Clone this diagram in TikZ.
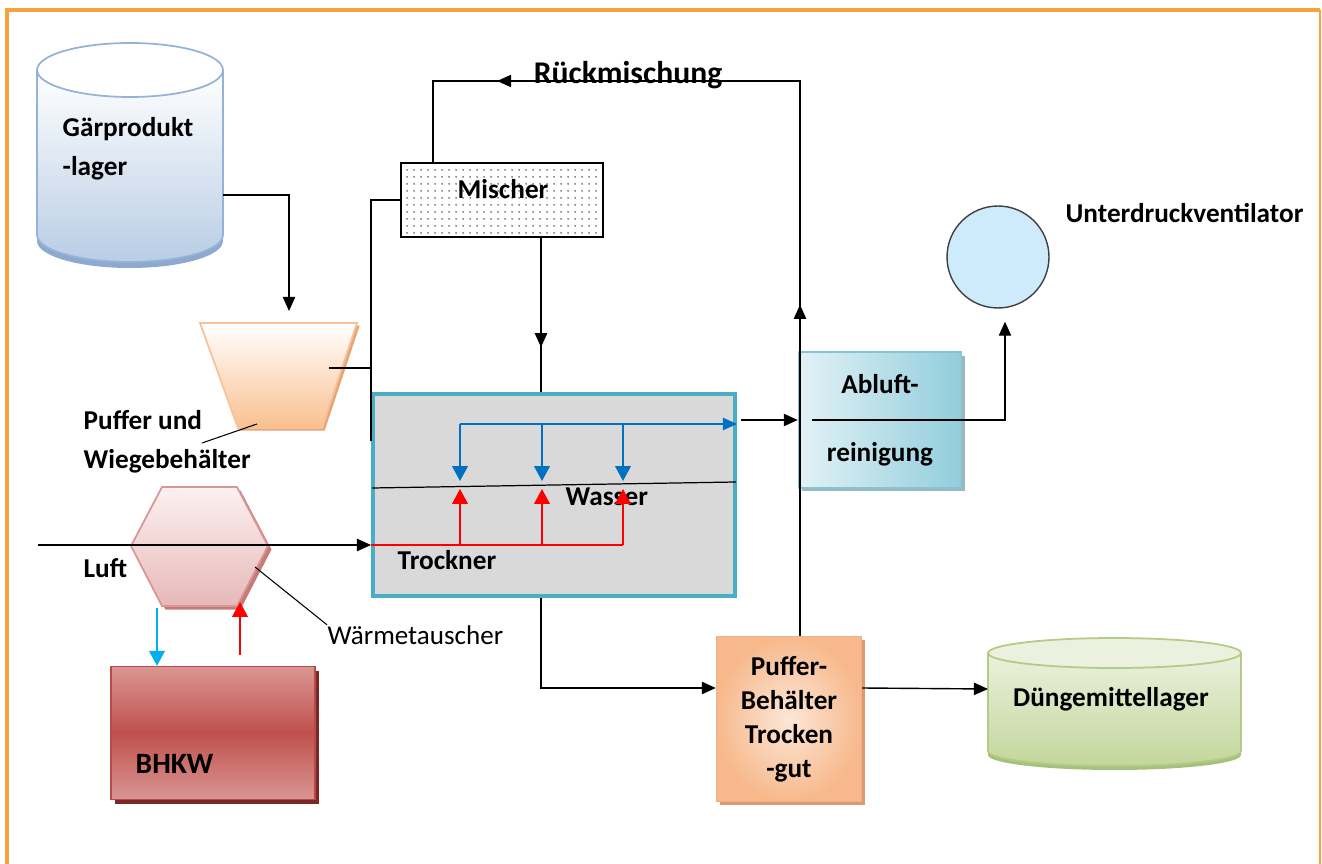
\documentclass[tikz,border=0pt]{standalone}
\usepackage{fontspec}
\setmainfont{Carlito}
\usetikzlibrary{arrows.meta, positioning, calc, patterns.meta, shadows,
                decorations.markings}

\definecolor{rahmen}{HTML}{F8A13A}
\definecolor{gaerrand}{HTML}{95B3D7}
\definecolor{gaerblau}{HTML}{B9CDE5}
\definecolor{gaerschatten}{HTML}{8EA9CF}
\definecolor{waagerand}{HTML}{F5C29A}
\definecolor{waageorange}{HTML}{FAC090}
\definecolor{waageschatten}{HTML}{E8A474}
\definecolor{hexrand}{HTML}{D99694}
\definecolor{hexhell}{HTML}{FCF1F1}
\definecolor{hexrosa}{HTML}{E6B9B8}
\definecolor{hexschatten}{HTML}{C77B79}
\definecolor{bhkwrot}{HTML}{C0504D}
\definecolor{bhkwhell}{HTML}{D99694}
\definecolor{bhkwrand}{HTML}{B84A47}
\definecolor{bhkwschatten}{HTML}{7B2725}
\definecolor{trocknerrand}{HTML}{4BACC6}
\definecolor{trocknergrau}{HTML}{D9D9D9}
\definecolor{wasserblau}{HTML}{0070C0}
\definecolor{heissrot}{HTML}{FF0000}
\definecolor{kaltcyan}{HTML}{00B0F0}
\definecolor{pfirsich}{HTML}{F7B98C}
\definecolor{pufferhell}{HTML}{FDE7D8}
\definecolor{pufferrand}{HTML}{F4B084}
\definecolor{pufferschatten}{HTML}{D89B72}
\definecolor{duenggruen}{HTML}{C3D69B}
\definecolor{duenghell}{HTML}{EBF1DE}
\definecolor{duengrand}{HTML}{B3CB85}
\definecolor{duengschatten}{HTML}{A6C27A}
\definecolor{ventblau}{HTML}{CDEBFB}
\definecolor{abluftdunkel}{HTML}{92CDDC}
\definecolor{ablufthell}{HTML}{E2F2F6}
\definecolor{abluftrand}{HTML}{86C3D4}
\definecolor{abluftschatten}{HTML}{9DB7BF}

\tikzset{
  lbl/.style={font=\bfseries\fontsize{15.5}{22}\selectfont, inner sep=0pt, align=left},
  flow/.style={-{Triangle[length=8pt, width=7pt]}},
  flowgross/.style={-{Triangle[length=8.5pt, width=9pt]}},
  pfeilbei/.style={postaction={decorate, decoration={markings,
      mark=at position #1 with {\arrow{Triangle[length=8pt, width=7pt]}}}}},
  kasten/.style={draw, inner sep=0pt, align=center},
}

\begin{document}
\begin{tikzpicture}[x=0.02cm, y=-0.02cm, line width=0.8pt]
  \useasboundingbox (0,0) rectangle (1322,864);
  % Rahmen
  \draw[rahmen, line width=2.3pt] (7,864) -- (7,10) -- (1320,10);
  \draw[rahmen, line width=0.8pt] (1320,10) -- (1320,864);

  % Gaerproduktlager
  \fill[gaerschatten] (37,76) -- (37,241) arc[start angle=180, end angle=360,
    x radius=1.86cm, y radius=0.54cm] -- (223,76) -- cycle;
  \path[draw=gaerrand, line width=1pt, top color=white, bottom color=gaerblau]
    (37,70) -- (37,235) arc[start angle=180, end angle=360,
    x radius=1.86cm, y radius=0.54cm] -- (223,70) -- cycle;
  \draw[gaerrand, line width=1pt, fill=white] (130,70) ellipse [x radius=1.86cm, y radius=0.54cm];
  \node[lbl, anchor=west] (gaer) at (62,149) {Gärprodukt\\-lager};

  % Puffer und Wiegebehaelter
  \path[draw=waagerand, line width=1pt, top color=white, bottom color=waageorange,
        drop shadow={shadow xshift=1.5pt, shadow yshift=-1.5pt, fill=waageschatten, opacity=1}]
    (200,323) -- (357,323) -- (322,428) -- (238,428) -- cycle;
  \node[lbl, anchor=west] (waage) at (83,442) {Puffer und\\Wiegebehälter};

  % Waermetauscher
  \path[draw=hexrand, line width=1pt, top color=hexhell, bottom color=hexrosa,
        drop shadow={shadow xshift=2pt, shadow yshift=-2pt, fill=hexschatten, opacity=1}]
    (131,546) -- (162,487) -- (237,487) -- (268,546) -- (237,606) -- (162,606) -- cycle;
  \node[font=\fontsize{15.4}{18}\selectfont, anchor=west, inner sep=0pt] (waerme) at (327,635) {Wärmetauscher};

  % BHKW
  \node[draw=bhkwrand, top color=bhkwhell, bottom color=bhkwhell, middle color=bhkwrot,
        minimum width=4.08cm, minimum height=2.66cm, inner sep=0pt,
        drop shadow={shadow xshift=2.3pt, shadow yshift=-2.3pt, fill=bhkwschatten, opacity=1}]
    (bhkw) at (213,733) {};
  \node[lbl, font=\bfseries\fontsize{16.8}{20}\selectfont, anchor=west] (bhkw-text) at (135,764) {BHKW};

  % Mischer
  \node[kasten, minimum width=4.04cm, minimum height=1.48cm, preaction={fill=white},
        pattern={Dots[distance=4pt, radius=0.5pt]}, pattern color=black!85]
    (mischer) at (502,200) {};
  \node[lbl] (mischer-text) at (503,189) {Mischer};

  % Trockner
  \node[draw=trocknerrand, line width=2.3pt, fill=trocknergrau, inner sep=0pt,
        minimum width=7.24cm, minimum height=4.04cm] (trockner) at (554,495) {};

  % Abluftreinigung
  \node[draw=abluftrand, left color=ablufthell, right color=abluftdunkel,
        minimum width=3.26cm, minimum height=2.72cm, inner sep=0pt, align=center,
        font=\bfseries\fontsize{15.5}{38.7}\selectfont,
        drop shadow={shadow xshift=2pt, shadow yshift=-2pt, fill=abluftschatten, opacity=1}]
    (abluft) at (880,420) {Abluft-\\reinigung};

  % Unterdruckventilator
  \node[circle, draw=black!75, fill=ventblau, minimum size=2.04cm, inner sep=0pt] (vent) at (998,257) {};
  \node[lbl, anchor=west] (vent-text) at (1065,213) {Unterdruckventilator};

  % Pufferbehaelter Trockengut
  \node[draw=pufferrand, inner color=pufferhell, outer color=pfirsich, inner sep=0pt,
        minimum width=2.9cm, minimum height=3.3cm, align=center,
        font=\bfseries\fontsize{15.5}{19.4}\selectfont,
        drop shadow={shadow xshift=2pt, shadow yshift=-2pt, fill=pufferschatten, opacity=1}]
    (puffer) at (789,719) {Puffer-\\Behälter\\Trocken\\-gut};

  % Duengemittellager
  \fill[duengschatten] (988,657) -- (988,755) arc[start angle=180, end angle=360,
    x radius=2.53cm, y radius=0.3cm] -- (1241,657) -- cycle;
  \path[draw=duengrand, line width=1pt, top color=duenghell, bottom color=duenggruen]
    (988,653) -- (988,751) arc[start angle=180, end angle=360,
    x radius=2.53cm, y radius=0.3cm] -- (1241,653) -- cycle;
  \draw[duengrand, line width=1pt, fill=duenghell] (1114.5,653) ellipse [x radius=2.53cm, y radius=0.3cm];
  \node[lbl] (dueng) at (1111,699) {Düngemittellager};

  % Verbindungen
  \coordinate (gaer-aus) at (223,195);
  \coordinate (waage-ein) at (289,311);
  \coordinate (waage-innen) at (329,368);
  \coordinate (waage-zeiger) at (257,424);
  \coordinate (hex-zeiger) at (255,567);
  \coordinate (hex-kalt) at (157,608);
  \coordinate (hex-heiss) at (240,602);
  \coordinate (bhkw-heiss) at (240,655);
  \coordinate (luft) at (38,545);
  \coordinate (rueck-rechts) at (800,81);
  \coordinate (rueck-links) at (433,81);
  \coordinate (mischer-aus) at ($(mischer.south)+(39,0)$);
  \coordinate (trockner-aus) at ($(trockner.south)+(-13,0)$);
  \coordinate (puffer-ein) at ($(puffer.west)+(0,-31)$);
  \coordinate (dueng-ein) at (988,689);
  \coordinate (wasser-l) at (372,488);
  \coordinate (wasser-r) at (736,482);
  \coordinate (dampf-l) at (460,424);

  \draw[flow] (gaer-aus) -| (waage-ein);
  \draw[line width=0.6pt] ($(waage.west)+(119,1)$) -- (waage-zeiger);
  \draw (waage-innen) -- ++(43,0);
  \draw ($(trockner.north west)+(0,49)$) |- (mischer.west);
  \draw[pfeilbei=0.33, pfeilbei=0.855] (rueck-rechts |- puffer.north) -- (rueck-rechts)
    -- (rueck-links) -- (rueck-links |- mischer.north);
  \node[lbl, font=\bfseries\fontsize{18}{22}\selectfont] (rueck-text) at (628,75) {Rückmischung};
  \draw[pfeilbei=0.71] (mischer-aus) -- (mischer-aus |- trockner.north);
  \draw[line width=1.6pt] ($(mischer-aus)+(0,36)$) -- ($(mischer-aus)+(0,104)$);

  % im Trockner
  \draw[line width=0.7pt] (wasser-l) -- (wasser-r);
  \draw[wasserblau, flow] (dampf-l) -- (dampf-l -| trockner.east);
  \foreach \x in {460,542,623}
    \draw[wasserblau, flowgross] (\x,424) -- (\x,481);
  \node[lbl, anchor=west] (wasser) at (565,497) {Wasser};
  \node[lbl, anchor=west] (trockner-text) at (397,560) {Trockner};
  \draw[flow] (luft) -- (luft -| trockner.west);
  \draw[heissrot] (luft -| trockner.west) -- (623,545);
  \foreach \x in {460,542,623}
    \draw[heissrot, flowgross] (\x,545) -- (\x,489);
  \node[lbl, anchor=west] (luft-text) at (83,568) {Luft};

  \draw[line width=0.6pt] (hex-zeiger) -- (waerme.north west);
  \draw[kaltcyan, flowgross] (hex-kalt) -- (hex-kalt |- bhkw.north);
  \draw[heissrot, flowgross] (bhkw-heiss) -- (hex-heiss);

  \draw[flow] ($(abluft.west)+(-57,0)$) -- (abluft.west);
  \draw[flow] ($(abluft.west)+(14,0)$) -| ($(vent.south)+(7,13)$);
  \draw[flow] (trockner-aus) |- (puffer-ein);
  \draw[flow] (puffer-ein -| puffer.east) -- (dueng-ein);
\end{tikzpicture}
\end{document}
